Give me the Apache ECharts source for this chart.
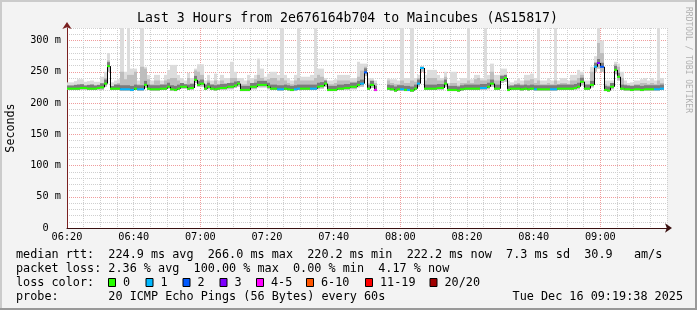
<!DOCTYPE html>
<html>
<head>
<meta charset="utf-8">
<script src="https://cdn.jsdelivr.net/npm/echarts@6/dist/echarts.min.js"></script>
<style>
html,body{margin:0;padding:0;background:#f3f3f3;}
#c{width:697px;height:310px;}
</style>
</head>
<body>
<div id="c"></div>
<script>
// ---- data (one value per minute, 06:20 .. 09:19) ----
const tickLabels = ['06:20','06:40','07:00','07:20','07:40','08:00','08:20','08:40','09:00'];
const yTickValues = [0, 50, 100, 150, 200, 250, 300];

const median = [
 223,223,223,223,224,224,223,223,223,224,
 225,231,259,223,223,223,222,222,222,221,
 223,222,222,229,223,222,222,222,223,223,
 226,222,221,223,226,226,223,224,237,229,
 231,223,226,223,222,223,224,224,226,226,
 228,231,221,221,221,226,226,229,229,229,
 226,223,223,222,222,223,222,221,222,223,
 223,223,223,223,223,226,227,231,221,221,
 221,223,223,224,224,226,226,229,231,249,
 223,229,221,null,null,null,223,222,220,222,
 222,221,221,220,223,231,256,223,223,223,
 223,224,224,231,221,221,221,220,222,223,
 223,223,223,223,224,224,226,231,223,223,
 237,240,221,223,223,223,222,223,222,223,
 222,222,222,222,222,222,222,223,223,223,
 223,223,224,226,234,223,223,229,258,264,
 258,221,220,226,253,242,223,222,222,221,
 222,222,221,222,222,222,222,222,223,null];

const lossCount = [
 0,0,0,0,0,0,0,0,0,0,
 0,0,0,0,0,0,1,1,1,1,
 0,1,1,0,0,0,0,0,0,0,
 0,0,0,0,0,0,0,0,0,0,
 0,0,0,0,0,0,0,0,0,0,
 0,0,0,0,0,0,0,0,0,0,
 0,0,0,1,1,0,0,0,1,1,
 0,0,0,1,1,0,0,0,0,0,
 0,0,0,0,0,0,0,0,1,2,
 0,0,4,null,null,null,0,0,0,0,
 1,0,1,0,0,1,1,0,0,0,
 0,0,0,0,0,0,0,0,0,0,
 0,0,0,0,1,1,0,0,0,0,
 0,0,0,0,0,0,0,0,0,0,
 1,0,0,0,0,1,1,0,0,0,
 0,0,0,0,0,0,0,0,1,3,
 2,0,0,0,0,0,0,0,0,0,
 0,0,0,0,0,0,1,1,1,null];

const smokeLo = [
 221,221,221,221,221,221,221,221,221,221,
 221,226,250,221,221,221,220,220,220,219,
 221,220,220,224,221,220,220,220,221,221,
 223,220,219,221,223,223,221,221,232,226,
 226,221,222,221,220,221,221,221,222,222,
 224,226,219,219,219,222,222,225,225,225,
 222,221,221,220,220,221,220,219,220,221,
 221,221,221,221,221,222,223,226,219,219,
 219,221,221,221,221,222,222,225,226,243,
 221,224,219,null,null,null,221,220,218,220,
 220,219,219,218,221,226,250,221,221,221,
 221,221,221,226,219,219,219,218,220,221,
 221,221,221,221,221,221,222,226,221,221,
 232,234,219,221,221,221,220,221,220,221,
 220,220,220,220,220,220,220,221,221,221,
 221,221,221,222,228,221,221,225,250,255,
 250,219,218,222,246,236,221,220,220,219,
 220,220,219,220,220,220,220,220,221,null];

const smokeMid = [
 228,228,229,230,230,228,229,230,228,229,
 232,240,268,227,230,232,250,238,245,245,
 250,230,258,255,238,230,236,236,230,236,
 238,240,240,236,232,230,240,232,252,250,
 245,230,236,230,236,230,236,232,232,240,
 240,235,230,230,236,232,238,245,240,236,
 238,240,240,236,240,236,232,230,236,240,
 236,236,236,236,240,245,242,236,230,230,
 232,236,236,236,236,234,234,242,252,258,
 232,236,232,null,null,null,236,232,230,230,
 236,232,232,236,234,240,258,236,240,240,
 240,236,236,242,228,232,232,228,232,232,
 236,232,238,240,236,236,238,250,236,236,
 245,245,230,228,230,232,230,236,236,238,
 232,236,230,230,232,230,236,230,232,232,
 230,236,236,240,245,230,230,250,265,296,
 280,230,228,232,262,258,240,230,228,228,
 230,230,232,232,230,232,230,236,232,null];

const smokeMax = [
 233,233,235,238,238,234,235,236,234,234,
 242,250,280,233,236,238,320,250,320,255,
 255,236,320,258,245,236,245,245,236,245,
 253,261,261,245,240,236,248,240,255,262,
 262,236,245,236,247,236,245,240,240,266,
 250,240,240,236,245,240,245,271,255,242,
 247,250,250,245,320,245,240,236,245,320,
 242,242,242,245,320,255,255,240,236,236,
 238,245,245,245,245,240,240,266,263,263,
 240,240,236,null,null,null,240,238,238,236,
 320,240,240,320,240,245,258,245,253,253,
 253,245,240,250,232,250,250,236,240,240,
 320,238,245,245,240,320,245,263,245,245,
 255,255,236,233,236,240,236,245,245,247,
 240,320,236,236,240,236,320,236,240,240,
 236,245,245,253,250,236,236,258,275,320,
 300,236,236,236,266,263,250,236,232,233,
 236,236,238,240,236,240,236,320,240,null];

const lossLabels = ['0','1','2','3','4-5','6-10','11-19','20/20'];
const lossColors = ['#26ff00','#00b8ff','#0059ff','#7e00ff','#ff00ff','#ff5500','#ff0000','#a00000'];

const titleText = 'Last 3 Hours from 2e676164b704 to Maincubes (AS15817)';
const legendLines = [
 'median rtt:  224.9 ms avg  266.0 ms max  220.2 ms min  222.2 ms now  7.3 ms sd  30.9   am/s',
 'packet loss: 2.36 % avg  100.00 % max  0.00 % min  4.17 % now',
 'loss color:',
 'probe:       20 ICMP Echo Pings (56 Bytes) every 60s'
];
const dateText = 'Tue Dec 16 09:19:38 2025';

// ---- build ----
function lossIndex(n){
  if (n <= 3) return n;
  if (n <= 5) return 4;
  if (n <= 10) return 5;
  if (n <= 19) return 6;
  return 7;
}
const table = median.map((v, i) => [i, smokeLo[i], smokeMid[i], smokeMax[i], v, lossCount[i], i > 0 ? median[i-1] : null]);

const FONT = 'DejaVu Sans Mono';
const LEG_FS = 11.8;
const GRID_MINOR = '#cfcfcf';
const GRID_MAJOR = '#ef9c9c';

function ok(v){ return v !== null && v !== undefined && isFinite(v); }

function renderSmoke(params, api){
  const m = api.value(0), lo = api.value(1), mid = api.value(2), hi = api.value(3), med = api.value(4);
  if (!ok(med)) return null;
  const pLo = api.coord([m, lo]);
  const pHi = api.coord([m + 1, hi]);
  const pMid = api.coord([m, mid]);
  const pMed = api.coord([m, med]);
  const x0 = Math.round(pLo[0]), x1 = Math.round(pHi[0]);
  const w = x1 - x0;
  const dTop = Math.max(pMid[1], pMed[1] - 4);
  const dBot = Math.min(pLo[1], pMed[1] + 1);
  return {
    type: 'group',
    children: [
      {type:'rect', shape:{x:x0, y:pHi[1], width:w, height:pLo[1]-pHi[1]}, style:{fill:'#dcdcdc'}},
      {type:'rect', shape:{x:x0, y:pMid[1], width:w, height:pLo[1]-pMid[1]}, style:{fill:'#bdbdbd'}},
      {type:'rect', shape:{x:x0, y:dTop, width:w, height:Math.max(0, dBot - dTop)}, style:{fill:'#7c7c7c'}}
    ]
  };
}

function renderMedian(params, api){
  const m = api.value(0), med = api.value(4), loss = api.value(5), prev = api.value(6);
  if (!ok(med)) return null;
  const p0 = api.coord([m, med]);
  const p1 = api.coord([m + 1, med]);
  const x0 = Math.round(p0[0]), x1 = Math.round(p1[0]);
  const children = [];
  if (ok(prev)) {
    const pp = api.coord([m, prev]);
    children.push({type:'line', shape:{x1:x0+0.5, y1:pp[1], x2:x0+0.5, y2:p0[1]}, style:{stroke:'#000', lineWidth:1}});
  }
  children.push({type:'line', shape:{x1:x0, y1:p0[1], x2:x1, y2:p0[1]}, style:{stroke:lossColors[lossIndex(loss)], lineWidth:2}});
  return {type:'group', children};
}

const xMinorColors = [];
for (let k = 0; k < 12; k++) xMinorColors.push(k === 8 ? GRID_MAJOR : GRID_MINOR);

const graphics = [
  {type:'rect', shape:{x:0,y:0,width:697,height:2}, style:{fill:'#cbcbcb'}, silent:true},
  {type:'rect', shape:{x:0,y:0,width:2,height:310}, style:{fill:'#cbcbcb'}, silent:true},
  {type:'rect', shape:{x:0,y:308,width:697,height:2}, style:{fill:'#999999'}, silent:true},
  {type:'rect', shape:{x:695,y:0,width:2,height:310}, style:{fill:'#999999'}, silent:true},
  {type:'text', x:347.5, y:19, style:{text:titleText, fontFamily:FONT, fontSize:13.2, fill:'#000', align:'center', verticalAlign:'middle'}},
  {type:'text', x:11, y:128, rotation:Math.PI/2, style:{text:'Seconds', fontFamily:FONT, fontSize:11.7, fill:'#000', align:'center', verticalAlign:'middle'}},
  {type:'text', x:688, y:60, rotation:-Math.PI/2, style:{text:'RRDTOOL / TOBI OETIKER', fontFamily:FONT, fontSize:8, fill:'#b0b0b0', align:'center', verticalAlign:'middle'}},
  {type:'text', x:683, y:296.5, style:{text:dateText, fontFamily:FONT, fontSize:LEG_FS, fill:'#000', align:'right', verticalAlign:'middle'}}
];
const lineY = [254.5, 268.5, 282.5, 296.5];
legendLines.forEach((t, i) => {
  graphics.push({type:'text', x:16, y:lineY[i], style:{text:t, fontFamily:FONT, fontSize:LEG_FS, fill:'#000', align:'left', verticalAlign:'middle'}});
});
const boxX = [108, 145.5, 182.5, 219.5, 256, 306, 365, 429.5];
lossLabels.forEach((lab, i) => {
  graphics.push({type:'rect', shape:{x:boxX[i]+0.5, y:278.5, width:7, height:8}, style:{fill:lossColors[i], stroke:'#000', lineWidth:1}});
  graphics.push({type:'text', x:boxX[i]+15, y:lineY[2], style:{text:lab, fontFamily:FONT, fontSize:LEG_FS, fill:'#000', align:'left', verticalAlign:'middle'}});
});

const chart = echarts.init(document.getElementById('c'), null, {renderer:'canvas'});
chart.setOption({
  animation: false,
  backgroundColor: '#f3f3f3',
  grid: {left:67, right:30, top:28, bottom:82, containLabel:false, outerBoundsMode:'none', show:true, backgroundColor:'#ffffff', borderWidth:0},
  xAxis: {
    type:'value', min:0, max:180, interval:5,
    axisLine:{show:true, onZero:false, lineStyle:{color:'#3a1010', width:1}, symbol:['none','arrow'], symbolSize:[7,7], symbolOffset:[0,5]},
    axisTick:{show:false},
    axisLabel:{show:true, margin:4, fontFamily:FONT, fontSize:10.25, color:'#000',
      formatter: v => { const r = Math.round(v); return (r % 20 === 0 && tickLabels[r/20]) ? tickLabels[r/20] : ''; }},
    splitLine:{show:true, lineStyle:{color:xMinorColors, type:[1,1], width:1}}
  },
  yAxis: {
    type:'value', min:0, max:320, interval:10,
    axisLine:{show:true, lineStyle:{color:'#7a2020', width:1}, symbol:['none','arrow'], symbolSize:[7,7], symbolOffset:[0,6]},
    axisTick:{show:false},
    axisLabel:{show:true, margin:6, fontFamily:FONT, fontSize:10.25, color:'#000',
      formatter: v => { const r = Math.round(v); if (yTickValues.indexOf(r) < 0) return ''; return r === 0 ? '0  ' : r + ' m'; }},
    splitLine:{show:true, lineStyle:{color:[GRID_MAJOR, GRID_MINOR, GRID_MINOR, GRID_MINOR, GRID_MINOR], type:[1,1], width:1}}
  },
  series: [
    {type:'custom', name:'smoke', renderItem:renderSmoke, data:table, encode:{x:0, y:[1,3]}, clip:true, z:2, silent:true},
    {type:'custom', name:'median', renderItem:renderMedian, data:table, encode:{x:0, y:4}, clip:true, z:3, silent:true}
  ],
  graphic: graphics
});
</script>
</body>
</html>
